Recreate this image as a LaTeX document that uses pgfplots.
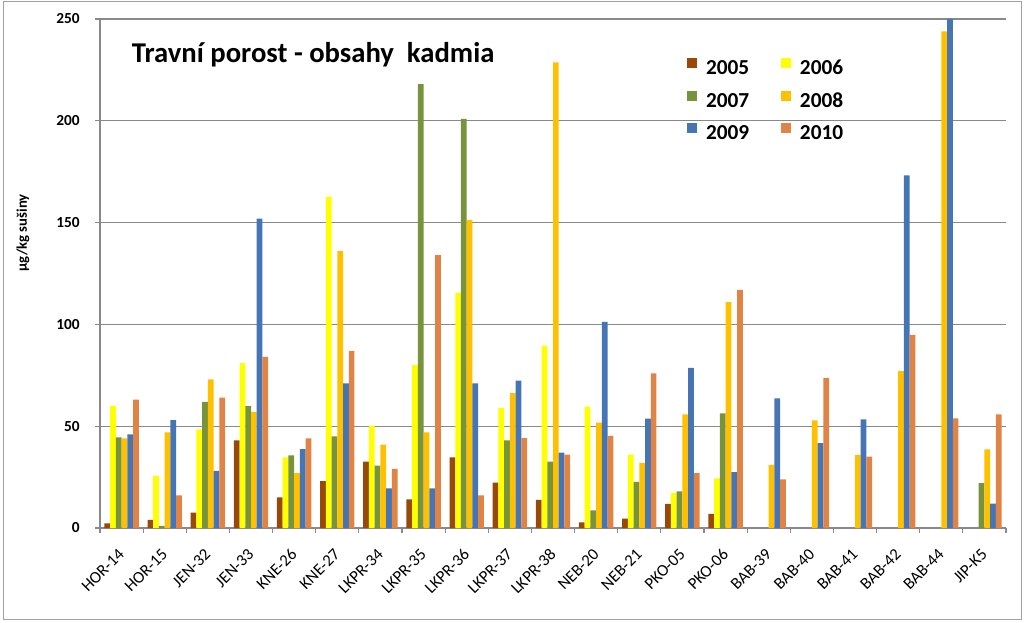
\documentclass[border=0pt]{standalone}
\usepackage{pgfplots}
\pgfplotsset{compat=1.18}
\usepackage{pgfplotstable}
\usepackage{fontspec}
\setmainfont{Carlito}

\definecolor{c05}{HTML}{984807}
\definecolor{c06}{HTML}{FFFF00}
\definecolor{c07}{HTML}{77933C}
\definecolor{c08}{HTML}{FFC000}
\definecolor{c09}{HTML}{4675B5}
\definecolor{c10}{HTML}{E08446}
\definecolor{gridgray}{HTML}{898989}

\pgfplotsset{sq/.style={legend image code/.code={\fill[##1] (0pt,0pt) rectangle (7.5pt,7.5pt);}}}

\pgfplotstableread{
idx y05 y06 y07 y08 y09 y10
0 2.3 60 44.5 44 46 63
1 4 25.7 1 47 53 16
2 7.5 48.5 62 73 28 64
3 43 81 60 57 152 84
4 15 34.7 35.7 27 38.8 44
5 23 162.7 45 136 71 87
6 32.6 50.3 30.6 41 19.5 29
7 14 80 218 47 19.5 134
8 34.7 115.6 201 151.3 71 16
9 22.3 59 43 66.3 72.4 44.2
10 13.8 89.6 32.6 228.7 37 36
11 2.8 59.6 8.7 51.8 101.2 45.2
12 4.6 36 22.6 32 53.7 76
13 11.9 17.3 18 55.8 78.7 27
14 7 24.4 56.3 111 27.5 117
15 nan nan nan 31 63.7 23.9
16 nan nan nan 52.9 41.7 73.7
17 nan nan nan 35.9 53.4 35.1
18 nan nan nan 77.1 173.2 94.9
19 nan nan nan 243.9 250 53.9
20 nan nan 22 38.6 12 55.8
}\data

\begin{document}
\begin{tikzpicture}[x=0.75pt,y=0.75pt]
\useasboundingbox (0,0) rectangle (1024,622);
\draw[color=gridgray!80, line width=0.75pt] (3,3) rectangle (1021,620.5);
\begin{axis}[
  at={(75pt,70.5pt)}, anchor=south west,
  width=679.5pt, height=381.75pt, scale only axis,
  xmin=-0.5, xmax=20.5, ymin=0, ymax=250,
  enlargelimits=false,
  ybar=0pt, bar width=4.3pt,
  axis x line=bottom, axis y line=left,
  axis line style={-, color=gridgray, line width=0.9pt},
  ymajorgrids, major grid style={color=gridgray, line width=0.9pt},
  ytick={0,50,...,250},
  xtick={0,...,20},
  xticklabels={HOR-14,HOR-15,JEN-32,JEN-33,KNE-26,KNE-27,LKPR-34,LKPR-35,LKPR-36,LKPR-37,LKPR-38,NEB-20,NEB-21,PKO-05,PKO-06,BAB-39,BAB-40,BAB-41,BAB-42,BAB-44,JIP-K5},
  minor xtick={-0.5,0.5,...,20.5},
  tick align=outside,
  major tick length=3.75pt, minor tick length=3.75pt,
  major x tick style={draw=none},
  minor x tick style={color=gridgray, line width=0.9pt},
  major y tick style={color=gridgray, line width=0.9pt},
  /pgf/number format/assume math mode=true,
  yticklabel style={font=\fontsize{11.5}{13}\selectfont\bfseries, inner sep=0pt, xshift=-11.25pt},
  xticklabel style={rotate=45, anchor=east, font=\fontsize{12.5}{14}\selectfont, inner sep=0pt},
  xticklabel shift=14pt,
  ylabel={µg/kg sušiny},
  ylabel style={at={(axis description cs:-0.085,0.58)}, anchor=center, font=\fontsize{11}{13}\selectfont\bfseries},
  legend columns=2,
  legend cell align=left,
  legend style={at={(0.648,0.925)}, anchor=north west, draw=none, fill=none,
    font=\fontsize{16}{18}\selectfont\bfseries, inner sep=0pt, row sep=8pt,
    /tikz/every even column/.append style={column sep=22pt},
    /tikz/every odd column/.append style={column sep=4.5pt}},
]
\addplot[fill=c05, draw=none, sq] table[x=idx, y=y05] {\data};
\addlegendentry{2005}
\addplot[fill=c06, draw=none, sq] table[x=idx, y=y06] {\data};
\addlegendentry{2006}
\addplot[fill=c07, draw=none, sq] table[x=idx, y=y07] {\data};
\addlegendentry{2007}
\addplot[fill=c08, draw=none, sq] table[x=idx, y=y08] {\data};
\addlegendentry{2008}
\addplot[fill=c09, draw=none, sq] table[x=idx, y=y09] {\data};
\addlegendentry{2009}
\addplot[fill=c10, draw=none, sq] table[x=idx, y=y10] {\data};
\addlegendentry{2010}
\node[anchor=base west, font=\fontsize{21.5}{25}\selectfont\bfseries] at (rel axis cs:0.03,0.9155) {Travní porost - obsahy\ \ kadmia};
\end{axis}
\end{tikzpicture}
\end{document}
